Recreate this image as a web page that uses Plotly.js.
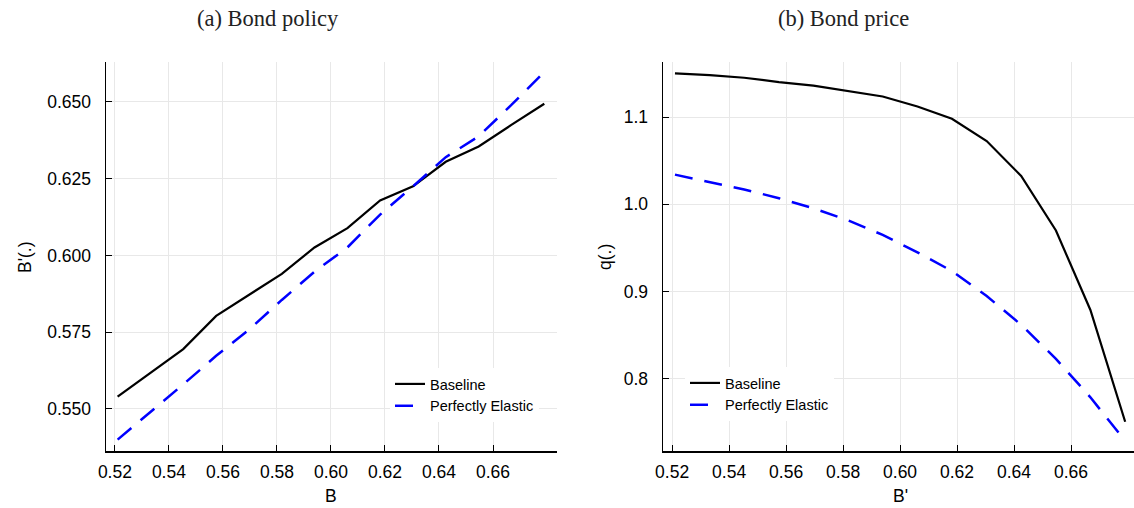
<!DOCTYPE html>
<html>
<head>
<meta charset="utf-8">
<script src="https://cdn.plot.ly/plotly-3.0.1.min.js"></script>
<style>
html,body{margin:0;padding:0;background:#fff;}
#chart{width:1134px;height:508px;}
</style>
</head>
<body>
<div id="chart"></div>
<script>
// Grid of bond holdings (both panels share it)
const bGrid = [0.5210, 0.5332, 0.5453, 0.5575, 0.5696, 0.5818, 0.5939, 0.6061, 0.6182, 0.6304, 0.6425, 0.6547, 0.6668, 0.6790];

// (a) Bond policy B'(B)
const policyBaseline = [0.5540, 0.5618, 0.5695, 0.5803, 0.5871, 0.5940, 0.6026, 0.6089, 0.6179, 0.6225, 0.6305, 0.6355, 0.6425, 0.6494];
const policyElastic  = [0.5400, 0.5490, 0.5580, 0.5673, 0.5758, 0.5855, 0.5947, 0.6026, 0.6133, 0.6225, 0.6320, 0.6388, 0.6490, 0.6598];

// (b) Bond price q(B')
const priceBaseline = [1.150, 1.148, 1.145, 1.140, 1.136, 1.130, 1.1235, 1.112, 1.098, 1.0725, 1.0325, 0.970, 0.879, 0.751];
const priceElastic  = [1.034, 1.0255, 1.017, 1.007, 0.9955, 0.9815, 0.965, 0.945, 0.9236, 0.895, 0.862, 0.823, 0.779, 0.729];

const seriesNames = ['Baseline', 'Perfectly Elastic'];
const panelTitles = ['(a) Bond policy', '(b) Bond price'];
const xTicks = [0.52, 0.54, 0.56, 0.58, 0.60, 0.62, 0.64, 0.66];
const yTicksA = [0.550, 0.575, 0.600, 0.625, 0.650];
const yTicksB = [0.8, 0.9, 1.0, 1.1];

const W = 1134, H = 508;
const px = v => v / W;
const py = v => (H - v) / H;

const blackLine = {color: '#000000', width: 2.2};
const blueLine = {color: '#0000ff', width: 2.5, dash: '18px,12px'};

const traces = [
  {x: bGrid, y: policyBaseline, name: seriesNames[0], mode: 'lines', line: blackLine, xaxis: 'x', yaxis: 'y', legend: 'legend'},
  {x: bGrid, y: policyElastic, name: seriesNames[1], mode: 'lines', line: blueLine, xaxis: 'x', yaxis: 'y', legend: 'legend'},
  {x: bGrid, y: priceBaseline, name: seriesNames[0], mode: 'lines', line: blackLine, xaxis: 'x2', yaxis: 'y2', legend: 'legend2'},
  {x: bGrid, y: priceElastic, name: seriesNames[1], mode: 'lines', line: blueLine, xaxis: 'x2', yaxis: 'y2', legend: 'legend2'}
];

const tickFont = {family: '"Liberation Sans", Arial, sans-serif', size: 17.5, color: '#000'};
const axisCommon = {
  showline: true, linecolor: '#000', linewidth: 1.5,
  showgrid: true, gridcolor: '#e8e8e8', gridwidth: 1,
  zeroline: false, ticks: 'inside', ticklen: 6, tickcolor: '#000', tickwidth: 1,
  tickfont: tickFont, mirror: false
};

const yDom = [py(451), py(62)];

const legendCommon = {
  bgcolor: '#ffffff', borderwidth: 0,
  font: {family: '"Liberation Sans", Arial, sans-serif', size: 14.5, color: '#000'},
  xanchor: 'left', yanchor: 'top', tracegroupgap: 0, itemwidth: 30
};

const layout = {
  width: W, height: H,
  margin: {l: 0, r: 0, t: 0, b: 0},
  paper_bgcolor: '#fff', plot_bgcolor: '#fff',
  showlegend: true,
  xaxis: Object.assign({}, axisCommon, {domain: [px(106), px(557)], range: [0.5167, 0.6837], tickvals: xTicks, tickformat: '.2f', anchor: 'y', ticklabelstandoff: 4}),
  yaxis: Object.assign({}, axisCommon, {domain: yDom, range: [0.5363, 0.6630], tickvals: yTicksA, tickformat: '.3f', anchor: 'x', ticklabelstandoff: 10}),
  xaxis2: Object.assign({}, axisCommon, {domain: [px(663), 1], range: [0.5168, 0.6821], tickvals: xTicks, tickformat: '.2f', anchor: 'y2', ticklabelstandoff: 4}),
  yaxis2: Object.assign({}, axisCommon, {domain: yDom, range: [0.7175, 1.163], tickvals: yTicksB, tickformat: '.1f', anchor: 'x2', ticklabelstandoff: 10}),
  legend: Object.assign({}, legendCommon, {x: px(390), y: py(368)}),
  legend2: Object.assign({}, legendCommon, {x: px(685), y: py(367)}),
  annotations: [
    {text: panelTitles[0], x: px(268), y: py(18), xref: 'paper', yref: 'paper', showarrow: false, xanchor: 'center', yanchor: 'middle',
     font: {family: '"Liberation Serif", "DejaVu Serif", serif', size: 22.5, color: '#222'}},
    {text: panelTitles[1], x: px(843), y: py(18), xref: 'paper', yref: 'paper', showarrow: false, xanchor: 'center', yanchor: 'middle',
     font: {family: '"Liberation Serif", "DejaVu Serif", serif', size: 22.5, color: '#222'}},
    {text: 'B', x: px(331), y: py(496), xref: 'paper', yref: 'paper', showarrow: false, xanchor: 'center', yanchor: 'middle', font: tickFont},
    {text: "B'", x: px(900), y: py(496), xref: 'paper', yref: 'paper', showarrow: false, xanchor: 'center', yanchor: 'middle', font: tickFont},
    {text: "B'(.)", x: px(25), y: py(257), xref: 'paper', yref: 'paper', showarrow: false, textangle: -90, xanchor: 'center', yanchor: 'middle', font: tickFont},
    {text: 'q(.)', x: px(605), y: py(257), xref: 'paper', yref: 'paper', showarrow: false, textangle: -90, xanchor: 'center', yanchor: 'middle', font: tickFont}
  ]
};

Plotly.newPlot('chart', traces, layout, {displayModeBar: false, staticPlot: true});
</script>
</body>
</html>
